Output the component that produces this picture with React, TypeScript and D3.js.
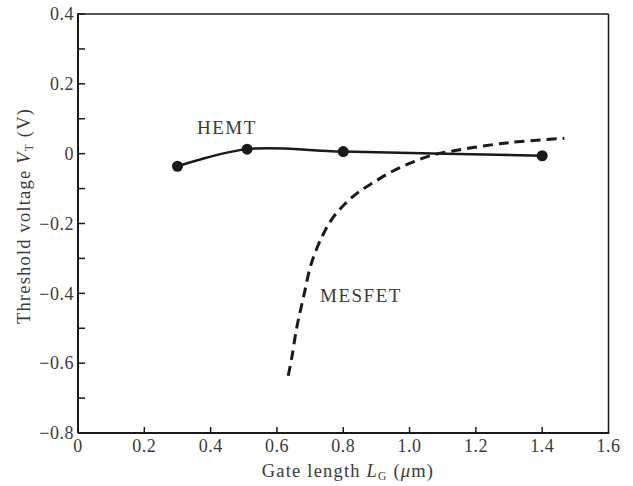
import React from "react";
import * as d3 from "d3";

const hemtL = [0.3, 0.51, 0.8, 1.4];
const hemtV = [-0.036, 0.013, 0.006, -0.006];

const mesfetL = [0.634, 0.645, 0.66, 0.68, 0.705, 0.74, 0.77, 0.805, 0.846, 0.892, 0.943, 1.0, 1.062, 1.162, 1.26, 1.336, 1.467];
const mesfetV = [-0.636, -0.583, -0.497, -0.411, -0.311, -0.23, -0.182, -0.144, -0.11, -0.082, -0.053, -0.028, -0.006, 0.013, 0.027, 0.035, 0.044];

const xTicks = [0, 0.2, 0.4, 0.6, 0.8, 1.0, 1.2, 1.4, 1.6];
const yTicks = [-0.8, -0.6, -0.4, -0.2, 0, 0.2, 0.4];
const yMinorTicks = [-0.7, -0.5, -0.3, -0.1, 0.1, 0.3];

const W = 633;
const H = 486;
const left = 78, right = 608.5, top = 14, bottom = 433;
const ink = "#1a1a1a";
const textCol = "#3a3a3a";
const font = "'Liberation Serif', 'Times New Roman', serif";

export default function App() {
  const x = d3.scaleLinear().domain([0, 1.6]).range([left, right]);
  const y = d3.scaleLinear().domain([-0.8, 0.4]).range([bottom, top]);

  const hemt = hemtL.map((l, i) => [l, hemtV[i]] as [number, number]);
  const mesfet = mesfetL.map((l, i) => [l, mesfetV[i]] as [number, number]);

  const hemtLine = d3.line<[number, number]>().x(d => x(d[0])).y(d => y(d[1])).curve(d3.curveCatmullRom.alpha(0.5));
  const mesLine = d3.line<[number, number]>().x(d => x(d[0])).y(d => y(d[1])).curve(d3.curveCatmullRom.alpha(0.5));

  const fmtY = (v: number) => (Math.abs(v) < 1e-9 ? "0" : v < 0 ? "\u2212" + Math.abs(v).toFixed(1) : v.toFixed(1));
  const fmtX = (v: number) => (Math.abs(v) < 1e-9 ? "0" : v.toFixed(1));

  return (
    <svg width={W} height={H} style={{ position: "absolute", left: 0, top: 0, background: "#fff" }} fontFamily={font}>
      {/* frame */}
      <line x1={left} y1={top} x2={right} y2={top} stroke={ink} strokeWidth={1.5} />
      <line x1={right} y1={top} x2={right} y2={bottom} stroke={ink} strokeWidth={1.5} />
      <line x1={left} y1={top - 0.75} x2={left} y2={bottom} stroke={ink} strokeWidth={2} />
      <line x1={left} y1={bottom} x2={right + 0.75} y2={bottom} stroke={ink} strokeWidth={2} />

      {/* y ticks */}
      {[...yTicks, ...yMinorTicks].map(t => (
        <line key={"yt" + t} x1={left} x2={left + 7} y1={y(t)} y2={y(t)} stroke={ink} strokeWidth={1.5} />
      ))}
      {yTicks.map(t => (
        <text key={"yl" + t} x={left - 4} y={y(t)} dy="0.35em" textAnchor="end" fontSize={18} fill={textCol} letterSpacing={0.5}>
          {fmtY(t)}
        </text>
      ))}

      {/* x ticks */}
      {xTicks.filter(t => t > 0 && t < 1.6).map(t => (
        <line key={"xt" + t} x1={x(t)} x2={x(t)} y1={bottom} y2={bottom - 6} stroke={ink} strokeWidth={1.5} />
      ))}
      {xTicks.map(t => (
        <text key={"xl" + t} x={x(t)} y={452} textAnchor="middle" fontSize={18} fill={textCol} letterSpacing={0.5}>
          {fmtX(t)}
        </text>
      ))}

      {/* axis titles */}
      <text x={348} y={477} textAnchor="middle" fontSize={18.5} fill={textCol} letterSpacing={1.2}>
        Gate length{" "}
        <tspan fontStyle="italic">L</tspan>
        <tspan fontSize={11.5} dy={3}>G</tspan>
        <tspan dy={-3}> (</tspan>
        <tspan fontStyle="italic">μ</tspan>
        <tspan>m)</tspan>
      </text>
      <text transform={`translate(30,216) rotate(-90)`} textAnchor="middle" fontSize={18.5} fill={textCol} letterSpacing={1.2}>
        Threshold voltage{"  "}
        <tspan fontStyle="italic">V</tspan>
        <tspan fontSize={11.5} dy={3}>T</tspan>
        <tspan dy={-3}> (V)</tspan>
      </text>

      {/* curves */}
      <path d={mesLine(mesfet) || ""} fill="none" stroke={ink} strokeWidth={3} strokeDasharray="10 6" />
      <path d={hemtLine(hemt) || ""} fill="none" stroke={ink} strokeWidth={2.5} />
      {hemt.map((d, i) => (
        <circle key={"p" + i} cx={x(d[0])} cy={y(d[1])} r={5.5} fill={ink} />
      ))}

      {/* labels */}
      <text x={197} y={134} fontSize={19} fill={textCol} letterSpacing={1.5}>HEMT</text>
      <text x={320} y={302} fontSize={19} fill={textCol} letterSpacing={1.5}>MESFET</text>
    </svg>
  );
}
